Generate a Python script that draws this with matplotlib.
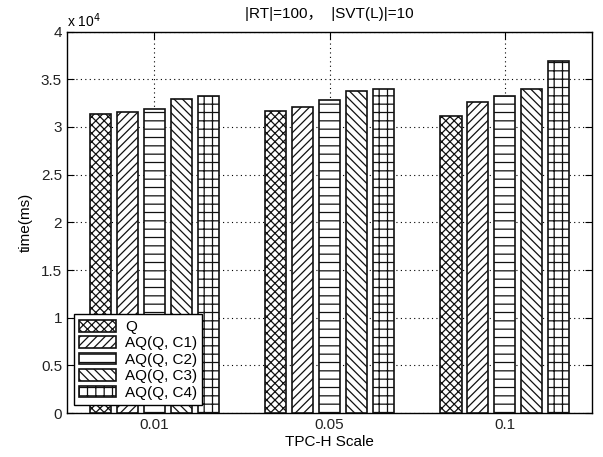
import numpy as np
import matplotlib.pyplot as plt
from matplotlib.ticker import FuncFormatter, MultipleLocator

plt.rcParams['font.family'] = ['Liberation Sans', 'Noto Sans CJK SC', 'DejaVu Sans']
plt.rcParams['hatch.color'] = '#222222'
plt.rcParams['hatch.linewidth'] = 0.9

# данные (время в мс)
scales = ['0.01', '0.05', '0.1']
series = ['Q', 'AQ(Q, C1)', 'AQ(Q, C2)', 'AQ(Q, C3)', 'AQ(Q, C4)']
t_q = [31390, 31720, 31180]
t_c1 = [31530, 32130, 32600]
t_c2 = [31840, 32860, 33200]
t_c3 = [32890, 33780, 33940]
t_c4 = [33260, 33950, 36880]
values = [t_q, t_c1, t_c2, t_c3, t_c4]
hatches = ['xxxx', '////', '--', '\\\\\\\\', '++']

fig = plt.figure(figsize=(6.03, 4.57), dpi=100)
ax = fig.add_axes([0.111, 0.096, 0.871, 0.835])

x = np.arange(1, len(scales) + 1)
n = len(series)
gw = min(0.8, n / (n + 1.5))
step = gw / n
w = step * 0.8
for i in range(n):
    ax.bar(x - gw / 2 + step * (i + 0.5), values[i], w, color='white',
           edgecolor='#111111', linewidth=1.2, hatch=hatches[i], label=series[i], zorder=3)

ax.set_xlim(0.5, 3.5)
ax.set_ylim(0, 40000)
ax.set_xticks(x)
ax.set_xticklabels(scales)
ax.yaxis.set_major_locator(MultipleLocator(5000))
ax.yaxis.set_major_formatter(FuncFormatter(lambda v, p: f'{v / 1e4:g}'))
ax.tick_params(direction='in', top=True, right=True, length=5, labelsize=11,
               colors='black', labelcolor='#222222')
ax.grid(True, linestyle=(0, (1, 3)), color='black', linewidth=0.8, zorder=0)
for s in ax.spines.values():
    s.set_linewidth(1.0)

ax.text(0.0, 1.005, 'x 10$^4$', transform=ax.transAxes, fontsize=10, va='bottom', ha='left')
ax.set_title('|RT|=100，  |SVT(L)|=10', fontsize=11, pad=10)
ax.set_xlabel('TPC-H Scale', fontsize=11, labelpad=2)
ax.set_ylabel('time(ms)', fontsize=11, labelpad=6)

leg = ax.legend(loc='lower left', bbox_to_anchor=(0.013, 0.021), borderaxespad=0,
                fontsize=11, fancybox=False, framealpha=1, edgecolor='black',
                handlelength=2.4, handleheight=0.8, labelspacing=0.15, handletextpad=0.6,
                borderpad=0.35)
leg.get_frame().set_linewidth(1.0)

plt.savefig('out.png', dpi=100)
